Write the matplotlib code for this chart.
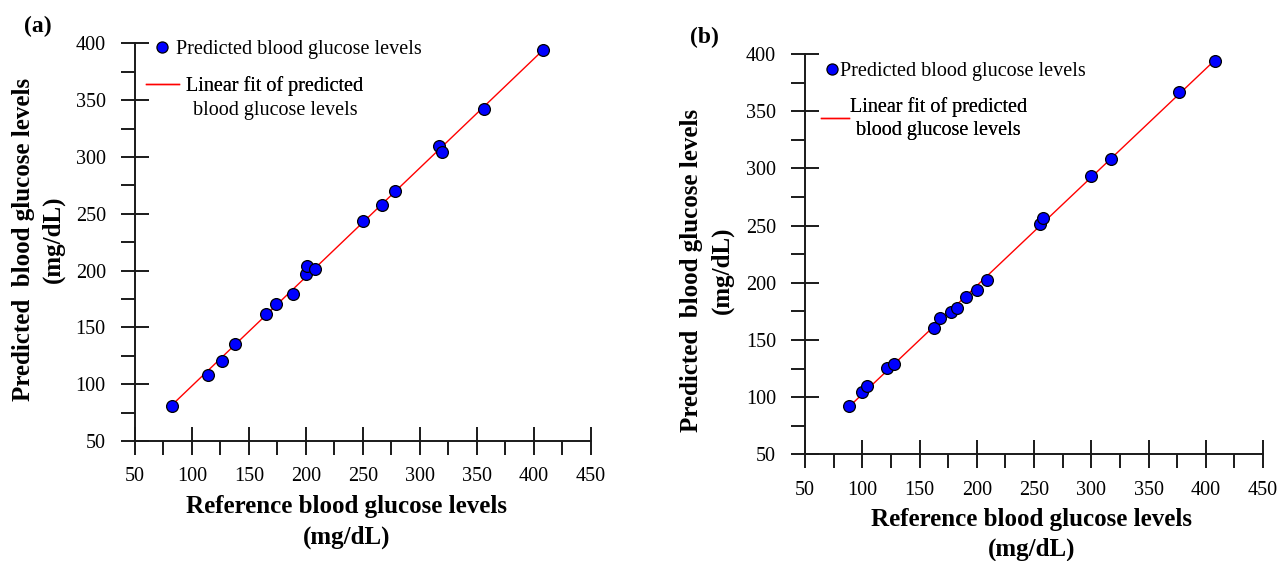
import numpy as np
import matplotlib
matplotlib.use('Agg')
import matplotlib.pyplot as plt
from matplotlib.ticker import MultipleLocator
from matplotlib.lines import Line2D

plt.rcParams['font.family'] = ['Liberation Serif', 'DejaVu Serif']

# panel (a): reference vs predicted (mg/dL)
ref_a = [82.6, 113.8, 126.3, 137.5, 164.7, 173.7, 188.5, 200.5, 200.9, 208.0,
         250.4, 267.2, 278.0, 317.0, 319.5, 356.0, 408.4]
pred_a = [80.7, 107.9, 120.8, 135.7, 161.7, 170.8, 179.3, 196.8, 204.4, 201.8,
          243.7, 258.0, 270.4, 309.7, 304.0, 342.0, 393.8]

# panel (b)
ref_b = [88.8, 100.2, 104.1, 121.6, 128.0, 162.9, 168.2, 177.1, 182.8, 191.0,
         200.0, 208.5, 255.5, 258.0, 299.6, 317.1, 376.9, 408.3]
pred_b = [91.9, 104.1, 109.3, 125.3, 129.0, 160.2, 169.5, 174.1, 177.6, 187.4,
          193.6, 202.3, 251.3, 256.3, 293.6, 307.9, 367.0, 393.9]

ticks = [50, 100, 150, 200, 250, 300, 350, 400, 450]
yticks = [50, 100, 150, 200, 250, 300, 350, 400]

pt_label = 'Predicted blood glucose levels'
fit_label = 'Linear fit of predicted\nblood glucose levels'

fig = plt.figure(figsize=(12.78, 5.61), dpi=100)
ax_a = fig.add_axes([0.1056, 0.2139, 0.3566, 0.7089])
ax_b = fig.add_axes([0.6299, 0.1902, 0.3584, 0.7135])

axcol = '#1a1a1a'


def draw_panel(ax, x, y, x_start):
    x = np.array(x)
    y = np.array(y)
    k, b = np.polyfit(x, y, 1)
    xf = np.linspace(x_start, x.max(), 50)
    ax.plot(xf, k * xf + b, color='red', lw=1.0, zorder=2)
    ax.plot(x, y, 'o', color='#0000ff', mec='black', mew=0.9, ms=8.5, zorder=3)
    ax.set_xlim(50, 450)
    ax.set_ylim(50, 400)
    ax.set_xticks(ticks)
    ax.set_yticks(yticks)
    ax.xaxis.set_minor_locator(MultipleLocator(25))
    ax.yaxis.set_minor_locator(MultipleLocator(25))
    for s in ['top', 'right']:
        ax.spines[s].set_visible(False)
    for s in ['left', 'bottom']:
        ax.spines[s].set_linewidth(1.4)
        ax.spines[s].set_color(axcol)
    ax.tick_params(which='major', direction='inout', length=20, width=1.4,
                   color=axcol, labelsize=14.5)
    ax.tick_params(which='minor', direction='out', length=10, width=1.4, color=axcol)
    ax.tick_params(axis='x', which='major', pad=9)
    ax.tick_params(axis='y', which='major', pad=11)
    ax.set_xlabel('Reference blood glucose levels\n(mg/dL)', fontsize=18,
                  fontweight='bold', linespacing=1.4)
    ax.set_ylabel('Predicted  blood glucose levels\n(mg/dL)', fontsize=18,
                  fontweight='bold', linespacing=1.4)


def add_entry(ax, handle, label, anchor, hlen, hpad):
    leg = ax.legend([handle], [label], loc='center left', bbox_to_anchor=anchor,
                    frameon=False, borderpad=0, borderaxespad=0, fontsize=14.5,
                    handlelength=hlen, handletextpad=hpad, labelspacing=0)
    for t in leg.get_texts():
        t.set_multialignment('center')
        t.set_linespacing(1.25)
    ax.add_artist(leg)
    return leg


pt_handle = Line2D([], [], ls='none', marker='o', color='#0000ff', mec='black',
                   mew=0.9, ms=8.0)
fit_handle = Line2D([], [], color='red', lw=1.0)

draw_panel(ax_a, ref_a, pred_a, 85)
ax_a.xaxis.set_label_coords(0.4637, -0.136)
ax_a.yaxis.set_label_coords(-0.153, 0.508)
add_entry(ax_a, pt_handle, pt_label, (0.0364, 0.985), 1.0, 0.21)
# in (a) the fit line sits level with the first text line
fit_lines = fit_label.split('\n')
add_entry(ax_a, fit_handle, fit_lines[0], (0.0235, 0.8934), 1.65, 0.36)
ax_a.text(0.3088, 0.8305, fit_lines[1], transform=ax_a.transAxes, fontsize=14.5,
          ha='center', va='center')

draw_panel(ax_b, ref_b, pred_b, 85.6)
ax_b.xaxis.set_label_coords(0.494, -0.1334)
ax_b.yaxis.set_label_coords(-0.155, 0.4604)
add_entry(ax_b, pt_handle, pt_label, (0.0407, 0.9558), 0.8, 0.02)
add_entry(ax_b, fit_handle, fit_label, (0.0345, 0.839), 1.40, 0.04)

fig.text(0.0297, 0.9537, '(a)', fontsize=17, fontweight='bold', ha='center', va='center')
fig.text(0.5514, 0.933, '(b)', fontsize=17, fontweight='bold', ha='center', va='center')

fig.savefig('out.png', dpi=100)
